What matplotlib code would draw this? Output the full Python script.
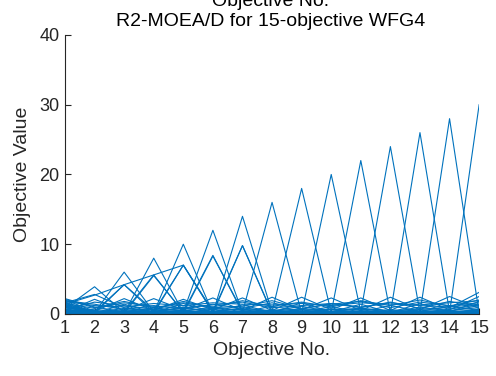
import matplotlib
matplotlib.use("Agg")
import matplotlib.pyplot as plt
import numpy as np

plt.rcParams['font.family'] = ['Liberation Sans', 'DejaVu Sans']

objectives = list(range(1, 16))
xtick_labels = [str(i) for i in objectives]
yticks = [0, 10, 20, 30, 40]

# extreme solutions (one large objective each)
peak_rows = [
    [0.8, 3.9, 0.2, 0.3, 0.1, 0.2, 0.3, 0.1, 0.2, 0.3, 0.1, 0.2, 0.3, 0.1, 0.4],
    [0.5, 0.2, 6.0, 0.3, 0.2, 0.1, 0.3, 0.2, 0.1, 0.3, 0.2, 0.1, 0.3, 0.2, 0.5],
    [0.3, 0.4, 0.1, 8.0, 0.2, 0.3, 0.1, 0.2, 0.3, 0.1, 0.2, 0.3, 0.1, 0.3, 0.2],
    [1.1, 0.1, 0.3, 0.2, 10.0, 0.1, 0.2, 0.3, 0.1, 0.2, 0.3, 0.1, 0.2, 0.1, 0.6],
    [0.2, 0.3, 0.2, 0.1, 0.3, 12.0, 0.2, 0.1, 0.3, 0.2, 0.1, 0.2, 0.3, 0.2, 0.3],
    [0.6, 0.2, 0.1, 0.3, 0.2, 0.1, 14.0, 0.3, 0.2, 0.1, 0.3, 0.2, 0.1, 0.3, 0.4],
    [0.4, 0.1, 0.3, 0.2, 0.1, 0.3, 0.2, 16.0, 0.1, 0.3, 0.2, 0.1, 0.3, 0.2, 0.1],
    [0.9, 0.3, 0.2, 0.1, 0.3, 0.2, 0.1, 0.3, 18.0, 0.2, 0.1, 0.3, 0.2, 0.1, 0.5],
    [0.2, 0.2, 0.1, 0.3, 0.2, 0.1, 0.3, 0.2, 0.1, 20.0, 0.3, 0.2, 0.1, 0.3, 0.2],
    [0.7, 0.1, 0.3, 0.2, 0.1, 0.3, 0.2, 0.1, 0.3, 0.2, 22.0, 0.1, 0.3, 0.2, 0.4],
    [0.3, 0.3, 0.2, 0.1, 0.3, 0.2, 0.1, 0.3, 0.2, 0.1, 0.3, 24.0, 0.2, 0.1, 0.3],
    [1.3, 0.2, 0.1, 0.3, 0.2, 0.1, 0.3, 0.2, 0.1, 0.3, 0.2, 0.1, 26.0, 0.3, 0.2],
    [0.1, 0.1, 0.3, 0.2, 0.1, 0.3, 0.2, 0.1, 0.3, 0.2, 0.1, 0.3, 0.2, 28.0, 0.1],
    [1.7, 0.3, 0.2, 0.1, 0.3, 0.2, 0.1, 0.3, 0.2, 0.1, 0.3, 0.2, 0.1, 0.2, 30.0],
]

# solutions sharing the front between two objectives
mid_rows = [
    [1.4, 0.3, 4.2, 0.5, 0.2, 0.3, 0.1, 0.2, 0.3, 0.1, 0.2, 0.3, 0.1, 0.2, 0.3],
    [0.2, 0.1, 4.2, 0.2, 0.4, 0.1, 0.3, 0.2, 0.1, 0.3, 0.2, 0.1, 0.3, 0.2, 0.1],
    [0.9, 0.2, 0.3, 5.6, 0.2, 0.1, 0.3, 0.2, 0.1, 0.3, 0.2, 0.1, 0.3, 0.2, 0.4],
    [0.4, 0.3, 0.1, 5.5, 0.3, 0.2, 0.1, 0.3, 0.2, 0.1, 0.3, 0.2, 0.1, 0.3, 0.2],
    [1.2, 0.1, 0.2, 0.3, 7.0, 0.2, 0.1, 0.3, 0.2, 0.1, 0.3, 0.2, 0.1, 0.3, 0.5],
    [0.3, 0.2, 0.3, 0.1, 7.0, 0.4, 0.2, 0.1, 0.3, 0.2, 0.1, 0.3, 0.2, 0.1, 0.2],
    [0.6, 0.3, 0.1, 0.2, 0.3, 8.4, 0.2, 0.1, 0.3, 0.2, 0.1, 0.3, 0.2, 0.1, 0.3],
    [1.0, 0.1, 0.2, 0.3, 0.1, 8.3, 0.4, 0.3, 0.1, 0.2, 0.3, 0.1, 0.2, 0.3, 0.6],
    [0.5, 0.2, 0.3, 0.1, 0.2, 0.3, 9.8, 0.2, 0.1, 0.3, 0.2, 0.1, 0.3, 0.2, 0.1],
    [1.5, 0.3, 0.1, 0.2, 0.3, 0.1, 9.8, 0.1, 0.3, 0.2, 0.1, 0.3, 0.2, 0.1, 0.4],
    [1.4, 2.7, 4.2, 5.6, 7.0, 0.3, 0.2, 0.1, 0.3, 0.2, 0.1, 0.3, 0.2, 0.1, 0.2],
]

# low-valued solutions forming the band near zero
low_rows = [
    [2.0, 0.4, 2.2, 0.5, 2.1, 0.6, 2.3, 0.5, 2.4, 0.6, 2.3, 0.5, 2.4, 0.6, 2.5],
    [0.3, 2.1, 0.5, 2.2, 0.6, 2.3, 0.5, 2.4, 0.6, 2.3, 0.5, 2.4, 0.6, 2.5, 0.8],
    [1.8, 1.2, 1.0, 1.5, 1.2, 1.6, 1.4, 1.3, 1.5, 1.2, 1.6, 1.4, 1.3, 1.6, 1.9],
    [1.5, 0.8, 1.6, 1.1, 0.9, 1.3, 1.7, 0.9, 1.2, 1.5, 1.0, 1.6, 1.2, 1.0, 1.4],
    [0.6, 1.7, 1.2, 0.7, 1.8, 0.9, 1.1, 1.9, 0.8, 1.4, 1.8, 0.9, 1.7, 1.2, 1.6],
    [2.2, 1.0, 0.3, 0.9, 0.4, 1.0, 0.3, 1.1, 0.4, 1.0, 0.3, 1.2, 0.4, 1.1, 0.5],
    [1.2, 0.2, 0.8, 0.3, 1.0, 0.2, 0.9, 0.4, 1.1, 0.3, 0.8, 0.2, 1.0, 0.4, 1.2],
    [0.9, 0.6, 0.4, 0.7, 0.5, 0.8, 0.6, 0.5, 0.7, 0.6, 0.8, 0.5, 0.7, 0.9, 3.1],
    [1.9, 1.4, 0.6, 1.2, 0.7, 1.4, 0.8, 1.6, 0.7, 1.5, 0.9, 1.7, 0.8, 1.8, 1.1],
    [0.1, 0.3, 0.2, 0.4, 0.1, 0.3, 0.2, 0.4, 0.3, 0.2, 0.4, 0.3, 0.2, 0.4, 0.3],
    [1.6, 2.8, 0.9, 0.3, 0.8, 0.4, 0.7, 0.3, 0.6, 0.4, 0.7, 0.3, 0.6, 0.5, 0.9],
    [0.5, 0.1, 1.4, 0.2, 1.5, 0.3, 1.3, 0.2, 1.6, 0.3, 1.4, 0.2, 1.5, 0.3, 1.8],
    [2.1, 0.9, 1.8, 0.9, 1.6, 1.0, 1.9, 1.1, 1.7, 1.0, 1.9, 1.2, 2.0, 1.1, 2.0],
    [0.0, 0.2, 0.0, 0.3, 0.1, 0.2, 0.0, 0.3, 0.1, 0.2, 0.0, 0.3, 0.1, 0.2, 0.0],
    [0.4, 0.0, 0.5, 0.1, 0.6, 0.0, 0.5, 0.1, 0.6, 0.0, 0.5, 0.1, 0.6, 0.0, 0.7],
    [1.0, 0.5, 0.1, 0.6, 0.2, 0.7, 0.1, 0.6, 0.2, 0.7, 0.1, 0.6, 0.2, 0.7, 1.3],
]

line_color = '#0072BD'
axis_color = '#262626'

fig = plt.figure(figsize=(4.96, 3.76), dpi=100)
ax = fig.add_axes([0.131, 0.165, 0.835, 0.742])

for row in peak_rows + mid_rows + low_rows:
    ax.plot(objectives, row, color=line_color, lw=0.8)

ax.set_xlim(1, 15)
ax.set_ylim(0, 40)
ax.set_xticks(objectives)
ax.set_xticklabels(xtick_labels)
ax.set_yticks(yticks)
ax.spines['top'].set_visible(False)
ax.spines['right'].set_visible(False)
for s in ['left', 'bottom']:
    ax.spines[s].set_color(axis_color)
    ax.spines[s].set_linewidth(0.8)
ax.tick_params(direction='in', length=4, width=0.8, colors=axis_color,
               labelsize=13, pad=4)
ax.set_xlabel('Objective No.', fontsize=14, color=axis_color, labelpad=4)
ax.set_ylabel('Objective Value', fontsize=14, color=axis_color, labelpad=6)

fig.text(0.545, 0.93, 'Objective No.\nR2-MOEA/D for 15-objective WFG4',
         ha='center', va='baseline', fontsize=14, color='black',
         linespacing=1.25, multialignment='center')

fig.savefig('out.png', dpi=100)
